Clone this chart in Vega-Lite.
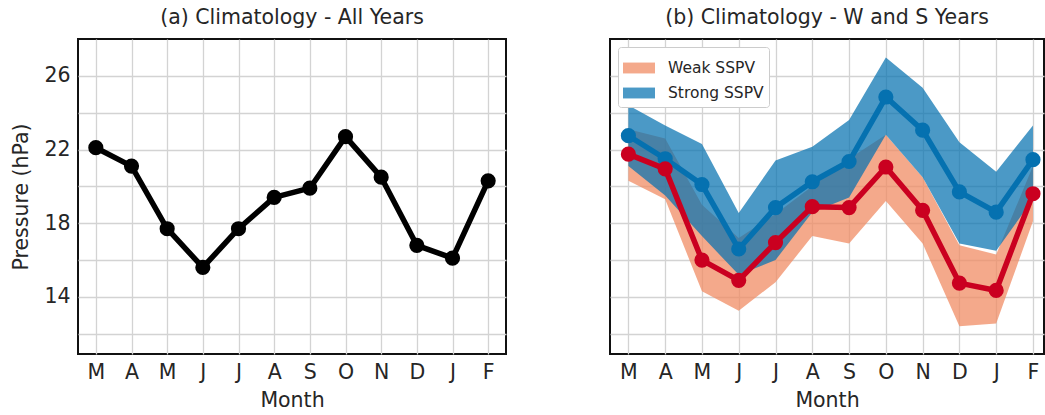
{
  "$schema": "https://vega.github.io/schema/vega-lite/v6.json",
  "background": "white",
  "padding": {"left": 10, "top": 6, "right": 0, "bottom": 0},
  "spacing": 102,
  "resolve": {"legend": {"color": "independent"}, "scale": {"color": "independent"}},
  "config": {
    "font": "DejaVu Sans",
    "view": {"stroke": "#111111", "strokeWidth": 2},
    "axis": {"labelFontSize": 20.5, "titleFontSize": 20.5, "titleFontWeight": "normal", "labelColor": "#262626", "titleColor": "#262626", "gridColor": "#d3d3d3", "gridWidth": 1.3, "ticks": false, "domain": false, "labelFont": "DejaVu Sans", "titleFont": "DejaVu Sans"},
    "axisX": {"labelPadding": 8, "titlePadding": 8},
    "axisY": {"labelPadding": 8, "titlePadding": 12},
    "title": {"fontSize": 20.5, "fontWeight": "normal", "color": "#262626", "offset": 11, "font": "DejaVu Sans"}
  },
  "datasets": {
    "clim": [
      {"m": 0, "all": 22.1, "s": 22.75, "sl": 21.1, "sh": 24.4, "w": 21.75, "wl": 20.3, "wh": 23.1},
      {"m": 1, "all": 21.1, "s": 21.5, "sl": 19.5, "sh": 23.3, "w": 20.95, "wl": 19.3, "wh": 22.6},
      {"m": 2, "all": 17.7, "s": 20.1, "sl": 17.3, "sh": 22.3, "w": 16.0, "wl": 14.3, "wh": 19.0},
      {"m": 3, "all": 15.6, "s": 16.6, "sl": 15.2, "sh": 18.55, "w": 14.9, "wl": 13.25, "wh": 17.2},
      {"m": 4, "all": 17.7, "s": 18.85, "sl": 16.0, "sh": 21.4, "w": 16.95, "wl": 14.8, "wh": 18.5},
      {"m": 5, "all": 19.4, "s": 20.25, "sl": 18.6, "sh": 22.15, "w": 18.9, "wl": 17.3, "wh": 20.0},
      {"m": 6, "all": 19.9, "s": 21.35, "sl": 19.4, "sh": 23.6, "w": 18.85, "wl": 16.9, "wh": 21.5},
      {"m": 7, "all": 22.7, "s": 24.85, "sl": 22.8, "sh": 27.0, "w": 21.05, "wl": 19.2, "wh": 22.8},
      {"m": 8, "all": 20.5, "s": 23.05, "sl": 20.5, "sh": 25.35, "w": 18.7, "wl": 16.9, "wh": 20.5},
      {"m": 9, "all": 16.8, "s": 19.7, "sl": 16.9, "sh": 22.4, "w": 14.75, "wl": 12.4, "wh": 16.8},
      {"m": 10, "all": 16.1, "s": 18.6, "sl": 16.5, "sh": 20.8, "w": 14.35, "wl": 12.55, "wh": 16.3},
      {"m": 11, "all": 20.3, "s": 21.45, "sl": 19.3, "sh": 23.3, "w": 19.6, "wl": 18.1, "wh": 21.1}
    ]
  },
  "hconcat": [
    {
      "width": 428,
      "height": 315,
      "title": {"text": "(a) Climatology - All Years"},
      "data": {"name": "clim"},
      "encoding": {
        "x": {"field": "m", "type": "quantitative", "scale": {"domain": [-0.5, 11.5], "nice": false, "zero": false},
          "axis": {"values": [0,1,2,3,4,5,6,7,8,9,10,11], "labelExpr": "['M','A','M','J','J','A','S','O','N','D','J','F'][datum.value]", "title": "Month", "grid": true}}
      },
      "layer": [
        {
          "mark": {"type": "line", "color": "#000000", "strokeWidth": 5.5, "strokeJoin": "round"},
          "encoding": {
            "y": {"field": "all", "type": "quantitative", "scale": {"domain": [10.9, 28], "nice": false, "zero": false},
              "axis": {"values": [12,14,16,18,20,22,24,26], "labelExpr": "datum.value % 4 == 2 ? datum.label : ''", "title": "Pressure (hPa)", "grid": true}}
          }
        },
        {
          "mark": {"type": "point", "filled": true, "color": "#000000", "size": 230, "opacity": 1},
          "encoding": {"y": {"field": "all", "type": "quantitative"}}
        }
      ]
    },
    {
      "width": 434,
      "height": 315,
      "title": {"text": "(b) Climatology - W and S Years"},
      "data": {"name": "clim"},
      "resolve": {"legend": {"color": "independent"}},
      "encoding": {
        "x": {"field": "m", "type": "quantitative", "scale": {"domain": [-0.5, 11.3], "nice": false, "zero": false},
          "axis": {"values": [0,1,2,3,4,5,6,7,8,9,10,11], "labelExpr": "['M','A','M','J','J','A','S','O','N','D','J','F'][datum.value]", "title": "Month", "grid": true}}
      },
      "layer": [
        {
          "mark": {"type": "area"},
          "encoding": {
            "y": {"field": "wl", "type": "quantitative", "scale": {"domain": [10.9, 28], "nice": false, "zero": false},
              "axis": {"values": [12,14,16,18,20,22,24,26], "labels": false, "title": null, "grid": true}},
            "y2": {"field": "wh"},
            "color": {"datum": "Weak SSPV", "type": "nominal",
              "scale": {"domain": ["Weak SSPV", "Strong SSPV"], "range": ["rgba(240,140,100,0.75)", "rgba(5,113,176,0.72)"]},
              "legend": {"orient": "top-left", "offset": 8, "title": null, "fillColor": "white", "strokeColor": "#cccccc", "padding": 5, "cornerRadius": 3,
                "symbolType": "M-1,-0.34H1V0.34H-1Z", "symbolSize": 1024, "symbolStrokeWidth": 0, "symbolOpacity": 1,
                "labelFontSize": 15.5, "labelColor": "#262626", "labelOffset": 13, "rowPadding": -12, "labelFont": "DejaVu Sans"}}
          }
        },
        {
          "mark": {"type": "area"},
          "encoding": {
            "y": {"field": "sl", "type": "quantitative"},
            "y2": {"field": "sh"},
            "color": {"datum": "Strong SSPV", "type": "nominal"}
          }
        },
        {
          "mark": {"type": "line", "color": "#0571b0", "strokeWidth": 5.5, "strokeJoin": "round"},
          "encoding": {"y": {"field": "s", "type": "quantitative"}}
        },
        {
          "mark": {"type": "point", "filled": true, "color": "#0571b0", "size": 230, "opacity": 1},
          "encoding": {"y": {"field": "s", "type": "quantitative"}}
        },
        {
          "mark": {"type": "line", "color": "#ca0020", "strokeWidth": 5.5, "strokeJoin": "round"},
          "encoding": {"y": {"field": "w", "type": "quantitative"}}
        },
        {
          "mark": {"type": "point", "filled": true, "color": "#ca0020", "size": 230, "opacity": 1},
          "encoding": {"y": {"field": "w", "type": "quantitative"}}
        }
      ]
    }
  ]
}
